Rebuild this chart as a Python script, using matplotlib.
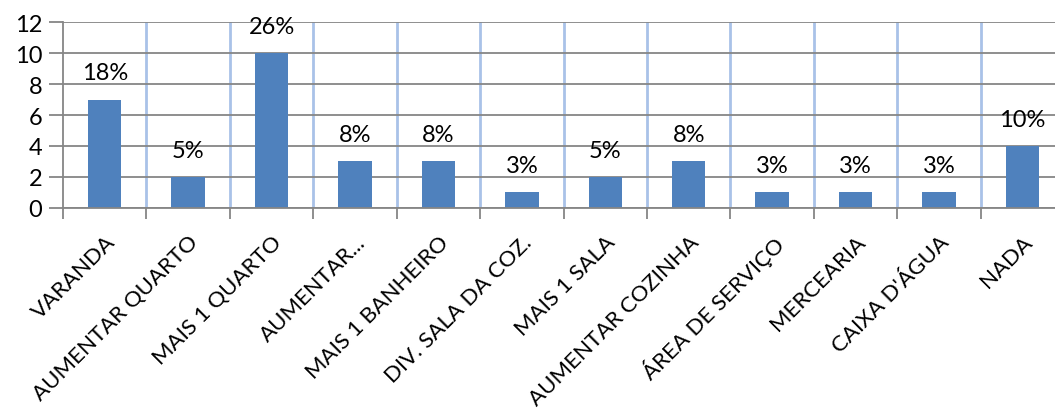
import matplotlib
matplotlib.use("Agg")
import matplotlib.pyplot as plt
import numpy as np

categories = [
    "VARANDA", "AUMENTAR QUARTO", "MAIS 1 QUARTO", "AUMENTAR...",
    "MAIS 1 BANHEIRO", "DIV. SALA DA COZ.", "MAIS 1 SALA",
    "AUMENTAR COZINHA", "ÁREA DE SERVIÇO", "MERCEARIA",
    "CAIXA D'ÁGUA", "NADA",
]
counts = [7, 2, 10, 3, 3, 1, 2, 3, 1, 1, 1, 4]
percent_labels = ["18%", "5%", "26%", "8%", "8%", "3%", "5%", "8%", "3%", "3%", "3%", "10%"]
y_ticks = [0, 2, 4, 6, 8, 10, 12]

plt.rcParams["font.family"] = ["Lato", "DejaVu Sans"]

fig = plt.figure(figsize=(10.55, 4.14), dpi=100)
ax = fig.add_axes([0.0597, 0.4952, 0.9489, 0.4492])

x = np.arange(len(categories))
ax.bar(x, counts, width=0.4, color="#4f81bd", zorder=3)

for xi, v, lab in zip(x, counts, percent_labels):
    ax.text(xi, v + 1.05, lab, ha="center", va="bottom",
            fontsize=17, color="black", zorder=4)

ax.set_xlim(-0.5, len(categories) - 0.5)
ax.set_ylim(0, 12)
ax.set_yticks(y_ticks)
ax.tick_params(axis="y", labelsize=17, length=10, width=1.3, color="#868686", pad=5)

# horizontal value gridlines
ax.yaxis.grid(True, color="#868686", linewidth=1.3, zorder=1)
# vertical category separators
for b in np.arange(0.5, len(categories) - 0.5, 1.0):
    ax.axvline(b, color="#a9c2e8", linewidth=2.0, zorder=1)

# category tick marks at boundaries, labels at centres
ax.set_xticks(np.arange(-0.5, len(categories), 1.0))
ax.set_xticklabels([])
ax.tick_params(axis="x", length=8, width=1.3, color="#868686")
ax.set_xticks(x, minor=True)
ax.set_xticklabels(categories, minor=True, rotation=45, ha="right", va="top",
                   rotation_mode="anchor", fontsize=16)
ax.tick_params(axis="x", which="minor", length=0, pad=17)

for side in ["top", "right"]:
    ax.spines[side].set_visible(False)
ax.spines["left"].set_color("#868686")
ax.spines["left"].set_linewidth(1.3)
ax.spines["bottom"].set_color("#868686")
ax.spines["bottom"].set_linewidth(1.3)
ax.spines["bottom"].set_zorder(4)

fig.savefig("out.png", dpi=100)
